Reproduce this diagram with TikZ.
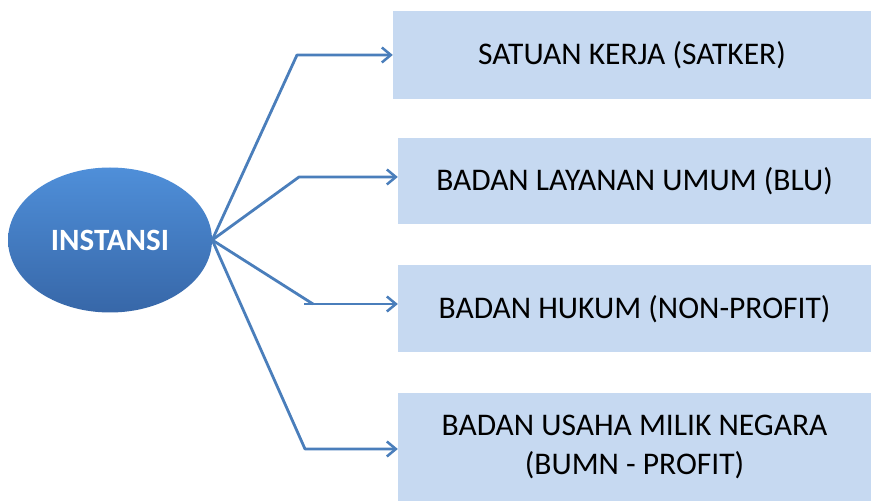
\documentclass[tikz,border=0pt]{standalone}
\usepackage{fontspec}
\setmainfont{Carlito}
\usetikzlibrary{arrows.meta,shapes.geometric}
\definecolor{boxblue}{HTML}{C6D9F1}
\definecolor{lineblue}{HTML}{4A7EBB}
\definecolor{ovaltop}{HTML}{4F8FD9}
\definecolor{ovalbottom}{HTML}{3767A8}
\begin{document}
\begin{tikzpicture}[x=1pt,y=-1pt,
		oval/.style={ellipse, minimum width=204pt, minimum height=145pt, top color=ovaltop, bottom color=ovalbottom, draw=none, text=white, font=\fontsize{31}{36}\selectfont\bfseries},
		entity/.style={fill=boxblue, minimum width=473pt, text centered, align=center, inner sep=0pt, font=\fontsize{31.5}{39}\selectfont},
		connections/.style={draw=lineblue, line width=2.8pt, line join=round},
		tip/.style={-{Straight Barb[length=9pt,width=15pt,line width=2.5pt]}},
	]
	\useasboundingbox (0,0) rectangle (871,502);
	% Draw diagram elements
	\node (instansi) [oval] at (110,240) {INSTANSI};
	\node (satker) [entity,minimum width=478pt,minimum height=88pt] at (632,55) {SATUAN KERJA (SATKER)};
	\node (blu) [entity,minimum height=86pt] at (634.5,181) {BADAN LAYANAN UMUM (BLU)};
	\node (hukum) [entity,minimum height=87pt] at (634.5,309) {BADAN HUKUM (NON-PROFIT)};
	\node (bumn) [entity,minimum height=108pt] at (634.5,447) {BADAN USAHA MILIK NEGARA\\(BUMN - PROFIT)};
	% Bend points of the connectors
	\coordinate (bend1) at (297,55);
	\coordinate (bend2) at (299,177);
	\coordinate (bend3) at (313,304);
	\coordinate (start3) at (304,304);
	\coordinate (bend4) at (305,449);
	% Draw arrows between elements
	\draw[connections,tip] (instansi.east) -- (bend1) -- (satker.west |- bend1);
	\draw[connections,tip] (instansi.east) -- (bend2) -- (blu.west |- bend2);
	\draw[connections] (instansi.east) -- (bend3);
	\draw[connections,tip] (start3) -- (hukum.west |- start3);
	\draw[connections,tip] (instansi.east) -- (bend4) -- (bumn.west |- bend4);
\end{tikzpicture}
\end{document}
